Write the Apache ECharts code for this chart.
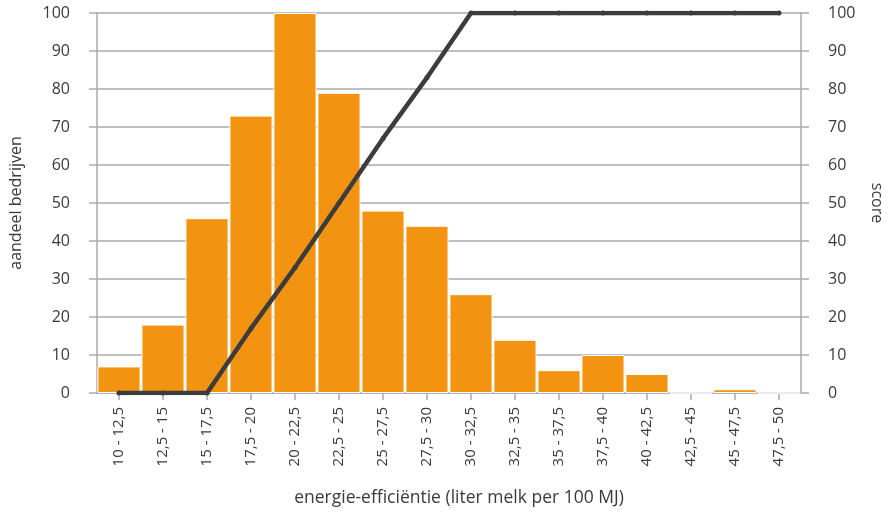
<!DOCTYPE html>
<html>
<head>
<meta charset="utf-8">
<script src="https://cdn.jsdelivr.net/npm/echarts@6/dist/echarts.min.js"></script>
<style>
html,body{margin:0;padding:0;background:#fff;}
#chart{width:893px;height:513px;}
</style>
</head>
<body>
<div id="chart"></div>
<script>
const categories = ['10 - 12,5','12,5 - 15','15 - 17,5','17,5 - 20','20 - 22,5','22,5 - 25','25 - 27,5','27,5 - 30','30 - 32,5','32,5 - 35','35 - 37,5','37,5 - 40','40 - 42,5','42,5 - 45','45 - 47,5','47,5 - 50'];
const shareValues = [7, 18, 46, 73, 100, 79, 48, 44, 26, 14, 6, 10, 5, 0, 1, 0];
const scoreValues = [0, 0, 0, 17, 33, 50, 67, 83, 100, 100, 100, 100, 100, 100, 100, 100];
const leftName = 'aandeel bedrijven';
const rightName = 'score';
const xName = 'energie-efficiëntie (liter melk per 100 MJ)';

const font = 'Open Sans';
const txt = '#3a3a3a';
const axisGray = '#aaaaaa';

const chart = echarts.init(document.getElementById('chart'));
chart.setOption({
  animation: false,
  textStyle: { fontFamily: font },
  grid: { left: 93, right: 83, top: 13, bottom: 120, containLabel: false },
  xAxis: {
    type: 'category',
    data: categories,
    boundaryGap: true,
    name: xName,
    nameLocation: 'middle',
    nameGap: 96,
    nameTextStyle: { fontFamily: font, fontSize: 17.5, color: txt, padding: [0, 0, 0, 20] },
    axisLine: { show: true, lineStyle: { color: axisGray, width: 1.5 } },
    axisTick: { show: true, alignWithLabel: true, length: 7, lineStyle: { color: axisGray, width: 1.5 } },
    axisLabel: { rotate: 90, margin: 14, fontSize: 15, color: txt, fontFamily: font, interval: 0 },
    splitLine: { show: false }
  },
  yAxis: [
    {
      type: 'value', min: 0, max: 100, interval: 10,
      name: leftName, nameLocation: 'middle', nameGap: 73,
      nameTextStyle: { fontFamily: font, fontSize: 16, color: txt },
      axisLine: { show: true, lineStyle: { color: axisGray, width: 1.5 } },
      axisTick: { show: true, length: 8, lineStyle: { color: axisGray, width: 1.5 } },
      axisLabel: { margin: 27, fontSize: 16, color: txt, fontFamily: font },
      splitLine: { show: true, lineStyle: { color: axisGray, width: 1.5 } }
    },
    {
      type: 'value', min: 0, max: 100, interval: 10,
      name: rightName, nameLocation: 'middle', nameGap: 68, nameRotate: -90,
      nameTextStyle: { fontFamily: font, fontSize: 16, color: txt },
      position: 'right',
      axisLine: { show: true, lineStyle: { color: axisGray, width: 1.5 } },
      axisTick: { show: true, length: 8, lineStyle: { color: axisGray, width: 1.5 } },
      axisLabel: { margin: 27, fontSize: 16, color: txt, fontFamily: font },
      splitLine: { show: false }
    }
  ],
  series: [
    {
      type: 'bar',
      data: shareValues,
      yAxisIndex: 0,
      barCategoryGap: '2%',
      itemStyle: { color: '#f29312', borderColor: '#ffffff', borderWidth: 1 },
      z: 2
    },
    {
      type: 'line',
      data: scoreValues,
      yAxisIndex: 1,
      symbol: 'circle',
      symbolSize: 5,
      showSymbol: true,
      lineStyle: { color: '#3c3c3c', width: 4.5, cap: 'round', join: 'round' },
      itemStyle: { color: '#3c3c3c' },
      z: 3
    }
  ]
});
</script>
</body>
</html>
